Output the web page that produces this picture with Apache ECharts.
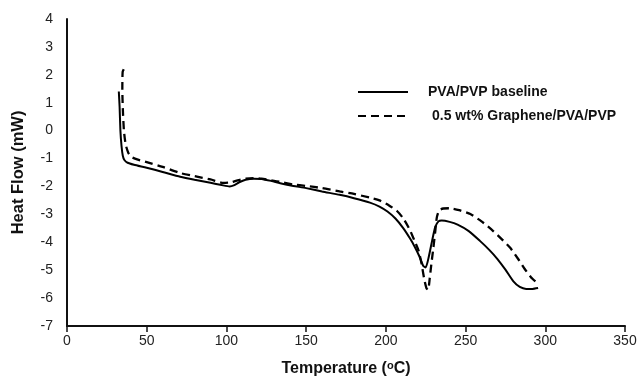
<!DOCTYPE html>
<html>
<head>
<meta charset="utf-8">
<script src="https://cdn.jsdelivr.net/npm/echarts@6/dist/echarts.min.js"></script>
<style>html,body{margin:0;padding:0;background:#fff;}#c{width:639px;height:377px;}</style>
</head>
<body>
<div id="c"></div>
<script>
// Temperature (°C) / Heat Flow (mW)
const baselineX = [32.5, 33.0, 33.5, 34.2, 35.0, 36.0, 38.0, 42, 50, 60, 71, 80, 90, 97, 102, 105, 108, 112, 117, 122, 128, 135, 142, 150, 160, 171, 180, 190, 196, 201, 206, 211, 215, 218, 221, 223.5, 225, 227, 229, 231, 233, 235, 240, 245, 252, 259, 265, 270, 275, 280, 284, 288, 292, 295.5];
const baselineY = [1.4, 0.85, 0.0, -0.55, -0.9, -1.05, -1.15, -1.22, -1.33, -1.48, -1.65, -1.76, -1.87, -1.95, -2.0, -1.95, -1.85, -1.76, -1.72, -1.73, -1.8, -1.9, -1.98, -2.06, -2.18, -2.3, -2.42, -2.58, -2.72, -2.9, -3.15, -3.5, -3.85, -4.15, -4.5, -4.85, -4.9, -4.5, -3.95, -3.45, -3.25, -3.22, -3.27, -3.37, -3.6, -3.95, -4.28, -4.6, -4.98, -5.4, -5.6, -5.67, -5.67, -5.64];
const grapheneX = [35.6, 34.9, 34.7, 35.0, 35.7, 36.8, 38.5, 40.5, 45, 50, 60, 71, 80, 90, 98, 103, 107, 112, 117, 122, 128, 135, 142, 150, 160, 171, 180, 190, 196, 202, 207, 211, 215, 218, 220.5, 222.5, 224, 225.5, 226.5, 227.5, 228.5, 229.8, 231, 232, 233.5, 236, 240, 246, 253, 260, 267, 272, 278, 283, 287, 291, 294.7];
const grapheneY = [2.2, 2.1, 1.5, 0.8, 0.0, -0.5, -0.8, -0.95, -1.05, -1.13, -1.3, -1.52, -1.63, -1.75, -1.87, -1.85, -1.78, -1.72, -1.7, -1.72, -1.78, -1.85, -1.93, -1.98, -2.06, -2.18, -2.27, -2.4, -2.5, -2.68, -2.88, -3.15, -3.55, -3.95, -4.3, -4.8, -5.3, -5.65, -5.7, -5.3, -4.8, -4.2, -3.6, -3.1, -2.85, -2.79, -2.78, -2.85, -2.99, -3.25, -3.58, -3.85, -4.2, -4.6, -4.95, -5.25, -5.45];
const seriesNames = ['PVA/PVP baseline', '0.5 wt% Graphene/PVA/PVP'];
const xTicks = {min: 0, max: 350, interval: 50};
const yTicks = {min: -7, max: 4, interval: 1};

const pairs = (xs, ys) => xs.map((x, i) => [x, ys[i]]);
const FONT = 'Arial, "Liberation Sans", sans-serif';

const chart = echarts.init(document.getElementById('c'), null, {renderer: 'canvas'});
chart.setOption({
  animation: false,
  backgroundColor: '#fff',
  grid: {left: 67, right: 14, top: 19, bottom: 51, containLabel: false, outerBoundsMode: 'none'},
  legend: {
    orient: 'vertical', left: 352, top: 80,
    itemWidth: 50, itemHeight: 14, itemGap: 10,
    itemStyle: {opacity: 0},
    textStyle: {fontFamily: FONT, fontSize: 14, fontWeight: 'bold', color: '#111', padding: [0, 0, 0, 15]},
    data: [
      {name: seriesNames[0]},
      {name: seriesNames[1], textStyle: {padding: [0, 0, 0, 19]}}
    ]
  },
  xAxis: {
    type: 'value', min: xTicks.min, max: xTicks.max, interval: xTicks.interval,
    name: 'Temperature ({s|o}C)', nameLocation: 'middle', nameGap: 34,
    nameTextStyle: {fontFamily: FONT, fontSize: 16, fontWeight: 'bold', color: '#111',
      rich: {s: {fontFamily: FONT, fontSize: 11, fontWeight: 'bold', color: '#111', verticalAlign: 'top', padding: [0, 0, 6, 0]}}},
    axisLine: {show: true, onZero: false, lineStyle: {color: '#111', width: 2}},
    axisTick: {show: true, inside: false, length: 6, lineStyle: {color: '#111', width: 1.5}},
    axisLabel: {fontFamily: FONT, fontSize: 14, color: '#222', margin: 8},
    splitLine: {show: false}
  },
  yAxis: {
    type: 'value', min: yTicks.min, max: yTicks.max, interval: yTicks.interval,
    name: 'Heat Flow (mW)', nameLocation: 'middle', nameGap: 40,
    nameTextStyle: {fontFamily: FONT, fontSize: 16.5, fontWeight: 'bold', color: '#111'},
    axisLine: {show: true, onZero: false, lineStyle: {color: '#111', width: 2}},
    axisTick: {show: false},
    axisLabel: {fontFamily: FONT, fontSize: 14, color: '#222', margin: 14},
    splitLine: {show: false}
  },
  series: [
    {name: seriesNames[0], type: 'line', data: pairs(baselineX, baselineY), symbol: 'none', smooth: 0.2,
      lineStyle: {color: '#000', width: 2, type: 'solid'}, itemStyle: {color: '#000'}},
    {name: seriesNames[1], type: 'line', data: pairs(grapheneX, grapheneY), symbol: 'none', smooth: 0.2,
      lineStyle: {color: '#000', width: 2.3, type: [8, 5]}, itemStyle: {color: '#000'}}
  ]
});
</script>
</body>
</html>
